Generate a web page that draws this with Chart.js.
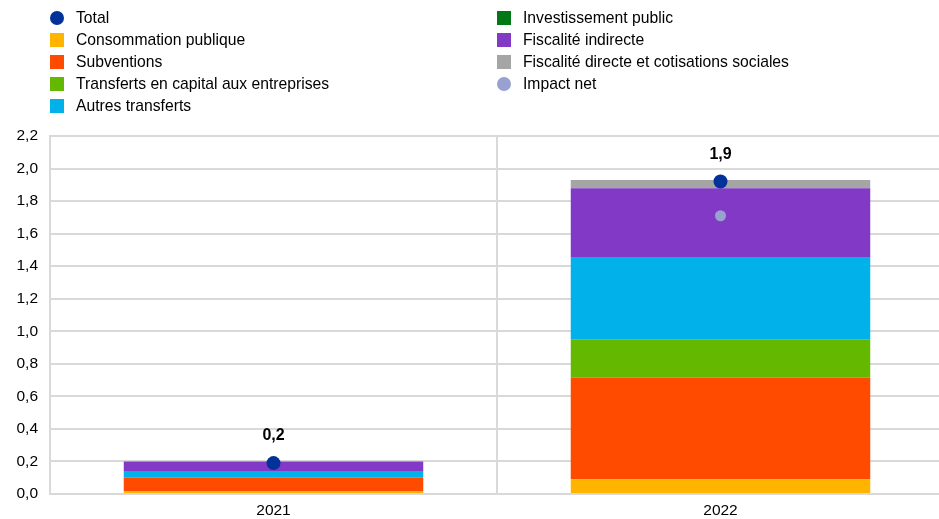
<!DOCTYPE html>
<html>
<head>
<meta charset="utf-8">
<script src="https://cdn.jsdelivr.net/npm/chart.js@4/dist/chart.umd.min.js"></script>
<style>
  body { margin: 0; background: #fff; font-family: "Liberation Sans", Arial, sans-serif; }
  #wrap { position: relative; width: 939px; height: 519px; overflow: hidden; }
  #legend { position: absolute; left: 0; top: 0; width: 939px; height: 120px; }
  .item { position: absolute; font-size: 15.7px; color: #000; line-height: 18px; white-space: nowrap; }
  .mk { position: absolute; left: -26px; top: 2px; width: 14px; height: 14px; }
  .mk.dot { border-radius: 50%; }
</style>
</head>
<body>
<div id="wrap">
  <!-- plot runs a few px past the right edge, as in the original -->
  <canvas id="canvas" width="944" height="519"></canvas>
  <div id="legend"></div>
</div>
<script>
var years = ['2021', '2022'];

var consommation = [0.015, 0.09];
var subventions = [0.085, 0.625];
var transfertsCapital = [0.0, 0.233];
var autresTransferts = [0.041, 0.504];
var investissement = [0.0, 0.0];
var fiscaliteIndirecte = [0.058, 0.427];
var fiscaliteDirecte = [0.0, 0.051];
var total = [0.19, 1.92];
var impactNet = [0.19, 1.71];

var colors = {
	total : '#003299',
	consommation : '#FFB400',
	subventions : '#FF4B00',
	transferts : '#65B800',
	autres : '#00B1EA',
	invest : '#007816',
	indirecte : '#8139C6',
	directe : '#A5A5A5',
	net : '#98A1D0'
};

function bar(label, data, color) {
	return {
		type : 'bar',
		label : label,
		data : data,
		backgroundColor : color,
		borderWidth : 0,
		stack : 'bars',
		order : 2,
		barPercentage : 1,
		categoryPercentage : 0.67
	};
}

var datasets = [
	{
		type : 'line', label : 'Total', data : total, stack : 'total', order : 0,
		showLine : false, pointRadius : 7, pointHoverRadius : 7,
		backgroundColor : colors.total, borderColor : colors.total, pointBorderWidth : 0
	},
	{
		type : 'line', label : 'Impact net', data : impactNet, stack : 'net', order : 1,
		showLine : false, pointRadius : 5.5, pointHoverRadius : 5.5,
		backgroundColor : colors.net, borderColor : colors.net, pointBorderWidth : 0
	},
	bar('Consommation publique', consommation, colors.consommation),
	bar('Subventions', subventions, colors.subventions),
	bar('Transferts en capital aux entreprises', transfertsCapital, colors.transferts),
	bar('Autres transferts', autresTransferts, colors.autres),
	bar('Investissement public', investissement, colors.invest),
	bar('Fiscalité indirecte', fiscaliteIndirecte, colors.indirecte),
	bar('Fiscalité directe et cotisations sociales', fiscaliteDirecte, colors.directe)
];

// legend in two columns, like the original
var legendItems = [
	[ 'Total', colors.total, true, 0, 0 ],
	[ 'Consommation publique', colors.consommation, false, 0, 1 ],
	[ 'Subventions', colors.subventions, false, 0, 2 ],
	[ 'Transferts en capital aux entreprises', colors.transferts, false, 0, 3 ],
	[ 'Autres transferts', colors.autres, false, 0, 4 ],
	[ 'Investissement public', colors.invest, false, 1, 0 ],
	[ 'Fiscalité indirecte', colors.indirecte, false, 1, 1 ],
	[ 'Fiscalité directe et cotisations sociales', colors.directe, false, 1, 2 ],
	[ 'Impact net', colors.net, true, 1, 3 ]
];
var leg = document.getElementById('legend');
legendItems.forEach(function(it) {
	var d = document.createElement('div');
	d.className = 'item';
	d.style.left = (it[3] == 0 ? 76 : 523) + 'px';
	d.style.top = (9 + it[4] * 22) + 'px';
	d.innerHTML = '<span class="mk' + (it[2] ? ' dot' : '') + '" style="background:' + it[1] + '"></span>' + it[0];
	leg.appendChild(d);
});

// value labels above the total dots
var totalLabels = {
	id : 'totalLabels',
	afterDatasetsDraw : function(chart) {
		var ctx = chart.ctx;
		var meta = chart.getDatasetMeta(0);
		ctx.save();
		ctx.font = 'bold 16px "Liberation Sans", Arial, sans-serif';
		ctx.fillStyle = '#000';
		ctx.textAlign = 'center';
		ctx.textBaseline = 'middle';
		meta.data.forEach(function(pt, i) {
			ctx.fillText(total[i].toFixed(1).replace('.', ','), pt.x, pt.y - 27);
		});
		ctx.restore();
	}
};

var tickFont = { size : 15.5, family : '"Liberation Sans", Arial' };

var ctx = document.getElementById('canvas').getContext('2d');
window.myChart = new Chart(ctx, {
	data : {
		labels : years,
		datasets : datasets
	},
	options : {
		responsive : false,
		animation : false,
		layout : { autoPadding : false, padding : { top : 136, left : 0, right : 0, bottom : 0 } },
		plugins : {
			legend : { display : false },
			tooltip : { enabled : false }
		},
		scales : {
			x : {
				stacked : true,
				afterFit : function(scale) { scale.height = 25; },
				grid : {
					offset : true,
					lineWidth : 2,
					drawTicks : false,
					// no line on the right edge
					color : function(c) { return c.type === 'tick' ? '#d9d9d9' : 'rgba(0,0,0,0)'; }
				},
				border : { color : '#d9d9d9', width : 2 },
				ticks : { color : '#000', font : tickFont, padding : 7 }
			},
			y : {
				stacked : true,
				min : 0,
				max : 2.2,
				afterFit : function(scale) { scale.width = 50; },
				grid : { color : '#d9d9d9', lineWidth : 2, drawTicks : false },
				border : { color : '#d9d9d9', width : 2 },
				ticks : {
					stepSize : 0.2,
					padding : 12,
					color : '#000',
					font : tickFont,
					callback : function(v) { return v.toFixed(1).replace('.', ','); }
				}
			}
		}
	},
	plugins : [ totalLabels ]
});
</script>
</body>
</html>
